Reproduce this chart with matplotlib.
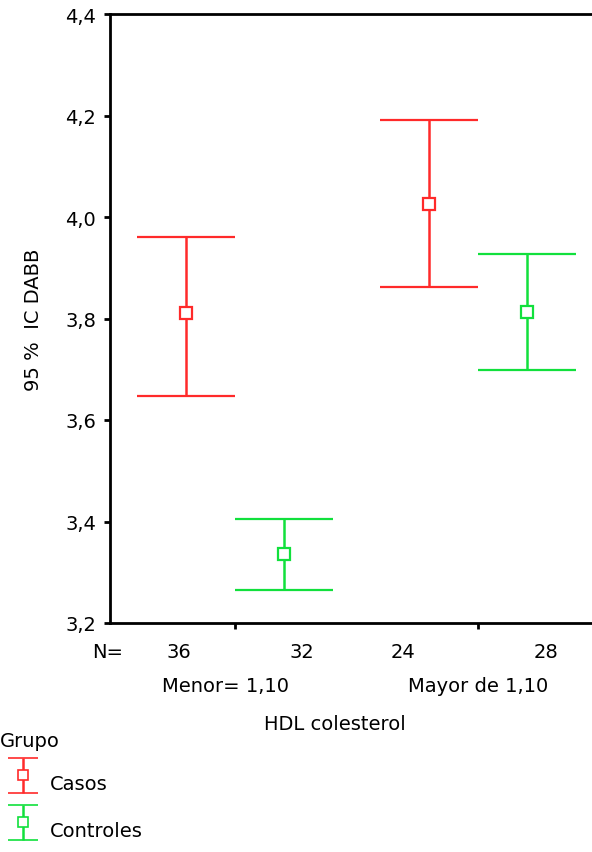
import numpy as np
import matplotlib.pyplot as plt
from matplotlib.transforms import blended_transform_factory
from matplotlib.legend_handler import HandlerErrorbar

plt.rcParams['font.family'] = ['DejaVu Sans']

# data
grupos = ['Casos', 'Controles']
hdl_cats = ['Menor= 1,10', 'Mayor de 1,10']
n_labels = ['36', '32', '24', '28']
medias = {'Casos': [3.81, 4.025], 'Controles': [3.335, 3.812]}
ic_inf = {'Casos': [3.648, 3.863], 'Controles': [3.265, 3.699]}
ic_sup = {'Casos': [3.960, 4.192], 'Controles': [3.404, 3.927]}
yticks = [3.2, 3.4, 3.6, 3.8, 4.0, 4.2, 4.4]
colores = {'Casos': '#ff2a2a', 'Controles': '#11e03c'}

W, H = 592, 853
fig = plt.figure(figsize=(W / 100, H / 100), dpi=100)
ax = fig.add_axes([110 / W, 1 - 624 / H, 1 - 110 / W, (624 - 15) / H])

offs = {'Casos': -0.2, 'Controles': 0.2}
handles = []
for g in grupos:
    xs = [i + offs[g] for i in range(len(hdl_cats))]
    m = medias[g]
    lo = [mm - l for mm, l in zip(m, ic_inf[g])]
    hi = [h - mm for mm, h in zip(m, ic_sup[g])]
    ax.errorbar(xs, m, yerr=[lo, hi], fmt='s', color=colores[g],
                mfc='white', mec=colores[g], mew=1.6, ms=8.5,
                ecolor=colores[g], elinewidth=1.8, capsize=35,
                capthick=1.8)
    # smaller proxy for the legend
    h = ax.errorbar([np.nan], [np.nan], yerr=[[np.nan], [np.nan]], fmt='s',
                    color=colores[g], mfc='white', mec=colores[g], mew=1.2,
                    ms=6.5, ecolor=colores[g], elinewidth=1.8, capsize=10.5,
                    capthick=1.8)
    handles.append(h)

ax.set_xlim(-0.514, 1.469)
ax.set_ylim(3.2, 4.4)
ax.set_yticks(yticks)
ax.set_yticklabels([f'{v:.1f}'.replace('.', ',') for v in yticks])
ax.set_xticks([0, 1])
ax.set_xticklabels([])
ax.tick_params(axis='both', direction='out', length=4, width=2, labelsize=14)
ax.tick_params(axis='y', pad=6)
for s in ['left', 'bottom', 'top']:
    ax.spines[s].set_linewidth(2)
ax.spines['right'].set_visible(False)

ax.set_ylabel('95 %  IC DABB', fontsize=14, labelpad=16)

tr = blended_transform_factory(ax.transData, fig.transFigure)
n_pos = [-0.23, 0.276, 0.69, 1.28]
for x, t in zip(n_pos, n_labels):
    ax.text(x, 1 - 652 / H, t, transform=tr, ha='center', va='center', fontsize=14)
fig.text(108 / W, 1 - 652 / H, 'N=', ha='center', va='center', fontsize=14)
cat_pos = [-0.04, 1.0]
for x, t in zip(cat_pos, hdl_cats):
    ax.text(x, 1 - 687 / H, t, transform=tr, ha='center', va='center', fontsize=14)
fig.text(335 / W, 1 - 724 / H, 'HDL colesterol', ha='center', va='center', fontsize=14)

fig.text(0.0, 1 - 742 / H, 'Grupo', ha='left', va='center', fontsize=14)
hmap = {h: HandlerErrorbar(yerr_size=0.9) for h in handles}
leg = fig.legend(handles=handles, labels=grupos, loc='upper left',
                 bbox_to_anchor=(0.0, 1 - 762 / H), frameon=False,
                 fontsize=14, handlelength=2.4, handleheight=3.2,
                 handletextpad=0.15, labelspacing=0.1, borderpad=0.0,
                 borderaxespad=0.0, handler_map=hmap)

fig.savefig('out.png', dpi=100, facecolor='white')
